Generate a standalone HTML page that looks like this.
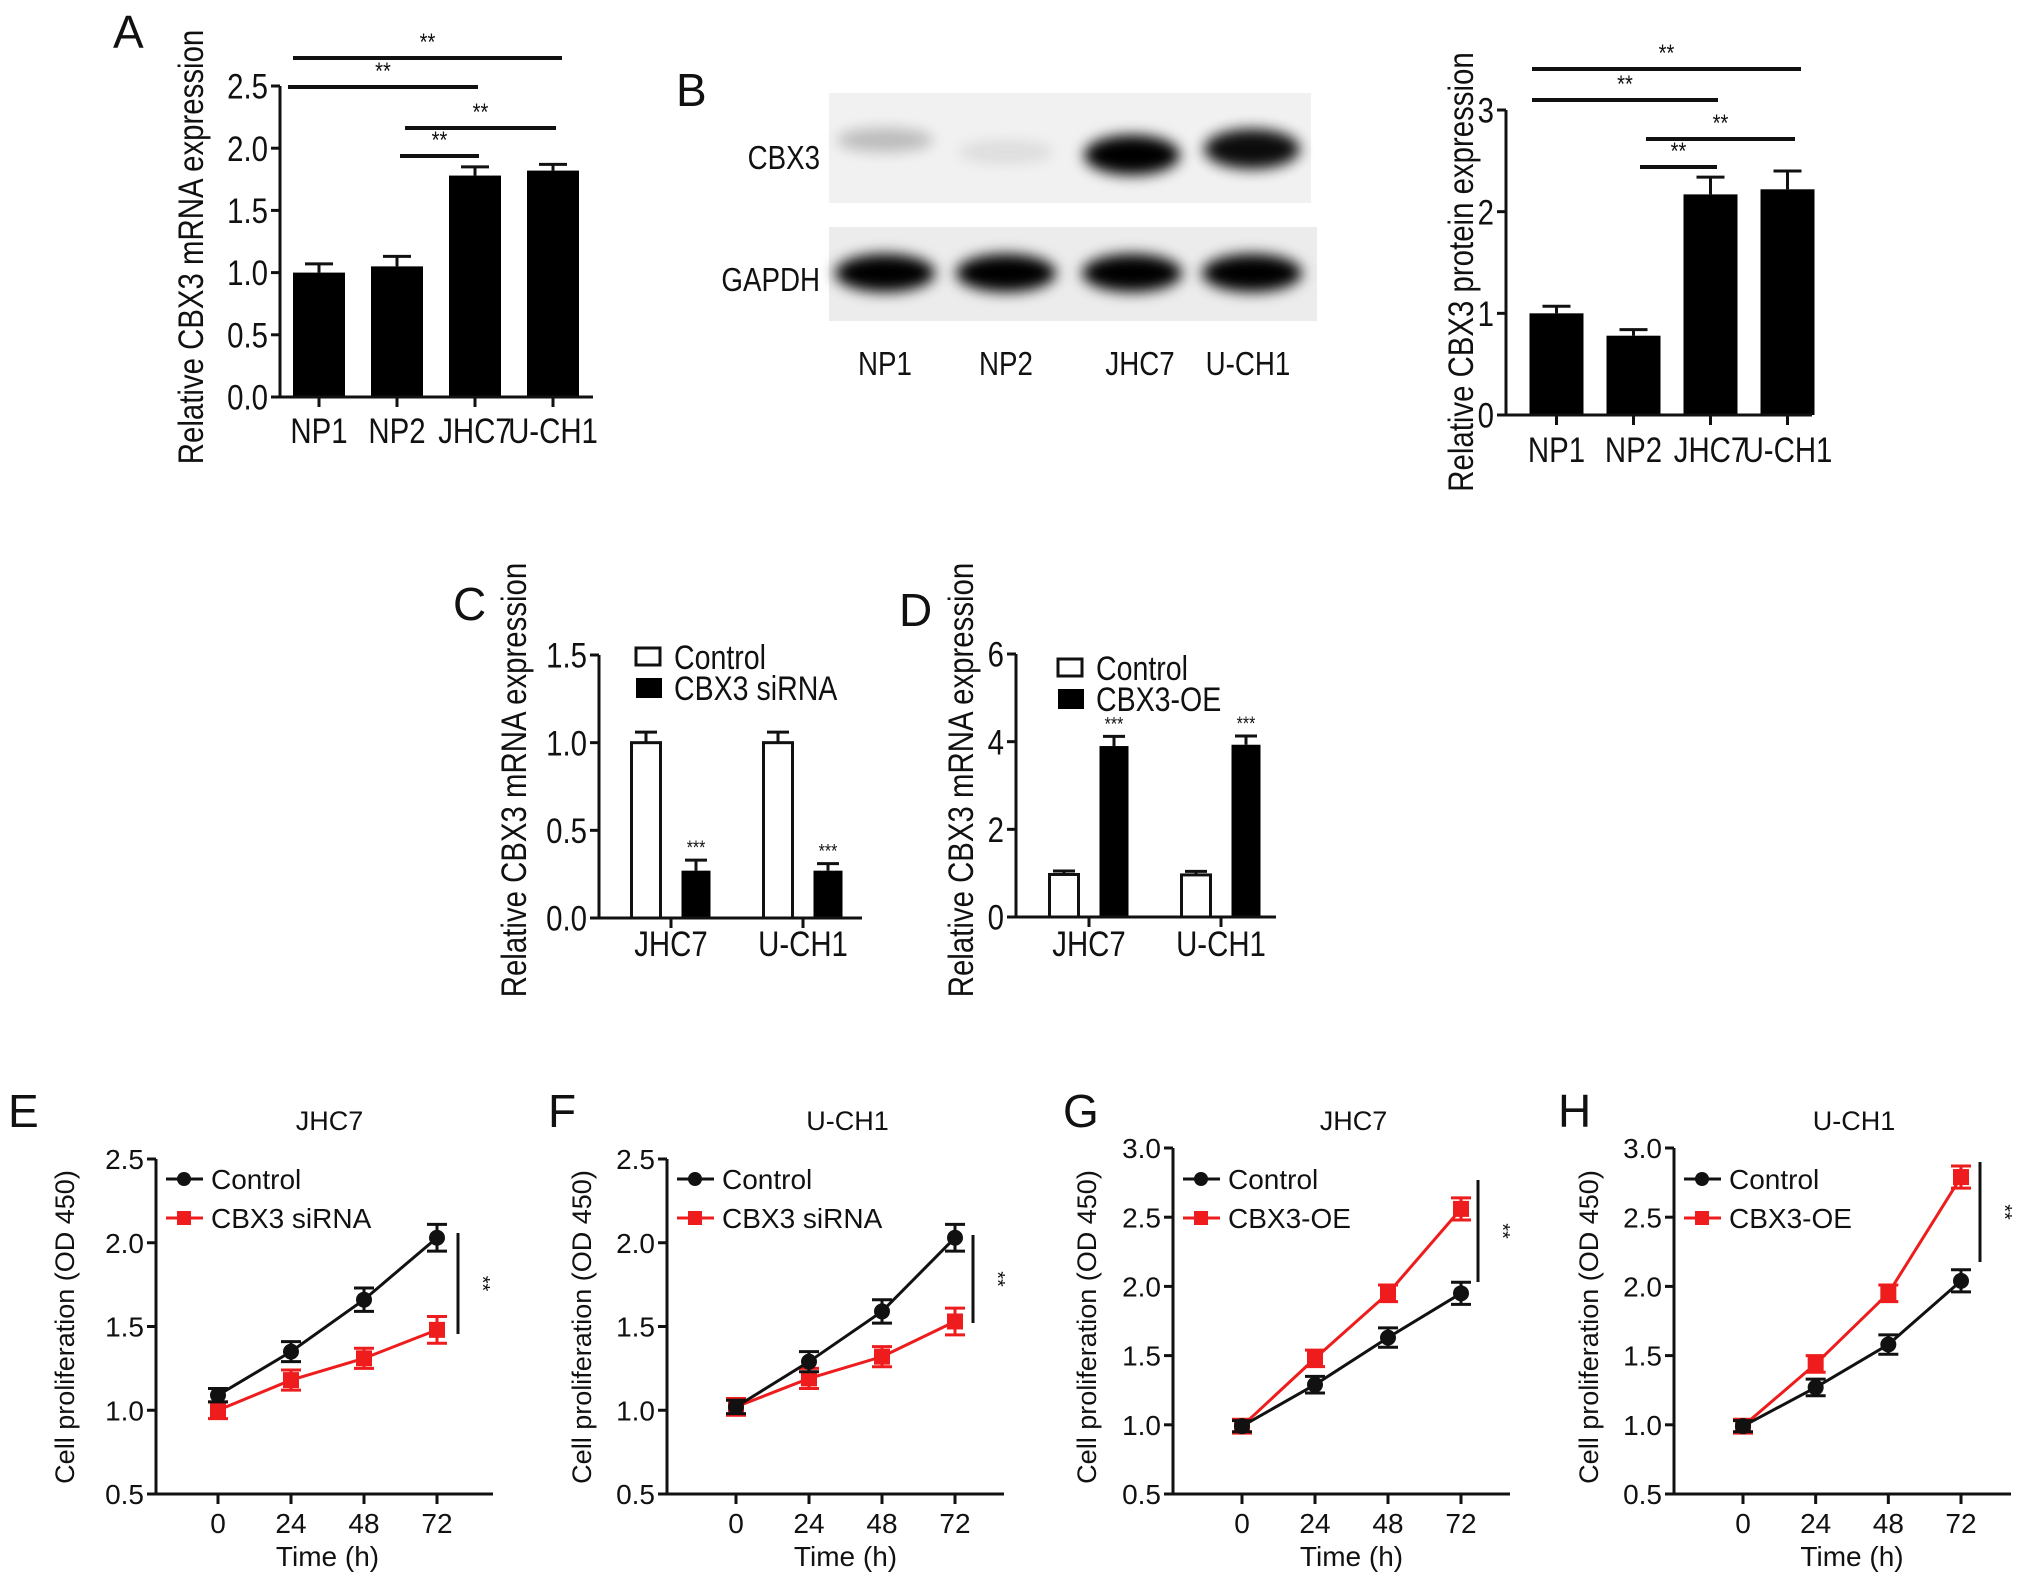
<!DOCTYPE html>
<html><head><meta charset="utf-8"><style>
body{margin:0;background:#fff}
svg{display:block;font-family:"Liberation Sans",Arial,sans-serif}
</style></head><body>
<svg id="fig" width="2032" height="1589" viewBox="0 0 2032 1589" xmlns="http://www.w3.org/2000/svg">
<defs>
<filter id="blur" x="-50%" y="-50%" width="200%" height="200%"><feGaussianBlur stdDeviation="7"/></filter>
</defs>
<g id="root"></g>
</svg>
<script>
// ---- Panel A data ----
const aCats = ["NP1","NP2","JHC7","U-CH1"];
const aVals = [1.0,1.05,1.78,1.82];
const aErr = [0.07,0.08,0.07,0.05];
const aTicks = [0,0.5,1.0,1.5,2.0,2.5];
const aTickLabels = ["0.0","0.5","1.0","1.5","2.0","2.5"];
// ---- Panel B data ----
const bCats = ["NP1","NP2","JHC7","U-CH1"];
const bVals = [1.0,0.78,2.17,2.22];
const bErr = [0.07,0.06,0.17,0.18];
const bTicks = [0,1,2,3];
const bTickLabels = ["0","1","2","3"];
// ---- Panel C data ----
const cCats = ["JHC7","U-CH1"];
const cControl = [1.0,1.0];
const cControlErr = [0.06,0.06];
const cSi = [0.27,0.27];
const cSiErr = [0.06,0.04];
const cTicks = [0,0.5,1.0,1.5];
const cTickLabels = ["0.0","0.5","1.0","1.5"];
// ---- Panel D data ----
const dCats = ["JHC7","U-CH1"];
const dControl = [0.97,0.96];
const dControlErr = [0.08,0.08];
const dOE = [3.9,3.93];
const dOEErr = [0.22,0.2];
const dTicks = [0,2,4,6];
const dTickLabels = ["0","2","4","6"];
// ---- Line panels data ----
const timePoints = [0,24,48,72];
const eControl = [1.09,1.35,1.66,2.03];
const eTreat = [1.0,1.18,1.31,1.48];
const fControl = [1.02,1.29,1.59,2.03];
const fTreat = [1.02,1.19,1.32,1.53];
const gControl = [0.99,1.29,1.63,1.95];
const gTreat = [0.99,1.48,1.95,2.56];
const hControl = [0.99,1.27,1.58,2.04];
const hTreat = [0.99,1.44,1.95,2.79];
const errE = [0.04,0.06,0.07,0.08];
const errT = [0.05,0.06,0.06,0.08];
const lineTicksLow = [0.5,1.0,1.5,2.0,2.5];
const lineTickLabelsLow = ["0.5","1.0","1.5","2.0","2.5"];
const lineTicksHigh = [0.5,1.0,1.5,2.0,2.5,3.0];
const lineTickLabelsHigh = ["0.5","1.0","1.5","2.0","2.5","3.0"];

const NS="http://www.w3.org/2000/svg";
const root=document.getElementById('root');
function el(tag,attrs,parent,text){
  const e=document.createElementNS(NS,tag);
  for(const k in attrs)e.setAttribute(k,attrs[k]);
  if(text!==undefined)e.textContent=text;
  (parent||root).appendChild(e);return e;
}
function lin(d0,d1,r0,r1){return v=>r0+(v-d0)*(r1-r0)/(d1-d0);}
let NARROW=1;
function txt(x,y,s,size,anchor,parent,name,extra){
  const ex=Object.assign({},extra||{});
  if(NARROW!==1){
    const sc=`translate(${x},0) scale(${NARROW},1) translate(${-x},0)`;
    ex.transform=(ex.transform?ex.transform+' ':'')+sc;
  }
  const t=el('text',Object.assign({x:x,y:y,'font-size':size,'text-anchor':anchor||'middle',fill:'#111'},ex),parent,s);
  
  
  return t;
}
function line(x1,y1,x2,y2,w,parent,color){
  return el('line',{x1:x1,y1:y1,x2:x2,y2:y2,stroke:color||'#111','stroke-width':w||3},parent);
}
function yAxis(g,ax,y,ticks,labels,size){
  const a=line(ax,y(ticks[ticks.length-1]),ax,y(ticks[0]),3,g);
  
  
  ticks.forEach((t,i)=>{
    line(ax-9,y(t),ax,y(t),3,g);
    txt(ax-12,y(t)+size*0.36,labels[i],size,'end',g,'y-tick-label');
  });
}
function errBar(g,x,yv,ye,y,capw,color,both){
  line(x,y(yv),x,y(yv+ye),3,g,color);
  line(x-capw,y(yv+ye),x+capw,y(yv+ye),3,g,color);
  if(both){line(x,y(yv),x,y(yv-ye),3,g,color);line(x-capw,y(yv-ye),x+capw,y(yv-ye),3,g,color);}
}
function sig(g,x1,x2,yy,label,size){
  const l=line(x1,yy,x2,yy,4,g);
  
  
  txt((x1+x2)/2,yy-8,label,size||24,'middle',g,'significance-label');
}
function panelLetter(x,y,s){
  const o=NARROW;NARROW=1;
  txt(x,y,s,46,'start',root,'panel-label-'+s.toLowerCase());
  NARROW=o;
}
function yTitle(g,x,y,s,size){
  txt(x,y,s,size,'middle',g,'y-axis-title',{transform:`rotate(-90 ${x} ${y})`});
}

NARROW=0.84;
const FS=35;
// ===== Panel A =====
(function(){
  const g=el('g',{});
  const ax=280,x0=280,step=78,bw=52;
  const y=lin(0,2.5,397,86);
  aVals.forEach((v,i)=>{
    const cx=x0+(i+0.5)*step;
    errBar(g,cx,v,aErr[i],y,14,'#111');
    const r=el('rect',{x:cx-bw/2,y:y(v),width:bw,height:y(0)-y(v),fill:'#000'},g);
    
    
    line(cx,y(0),cx,y(0)+10,3,g);
    txt(cx,443,aCats[i],FS,'middle',g,'x-tick-label');
  });
  yAxis(g,ax,y,aTicks,aTickLabels,FS);
  line(ax,y(0),593,y(0),3,g);
  yTitle(g,203,247,'Relative CBX3 mRNA expression',FS);
  sig(g,293,562,58,'**');sig(g,288,478,87,'**');sig(g,405,556,128,'**');sig(g,400,479,156,'**');
})();
panelLetter(113,48,'A');

// ===== Blot B =====
(function(){
  const g=el('g',{});
  el('rect',{x:829,y:93,width:482,height:110,fill:'#f1f1f1'},g);
  el('rect',{x:829,y:227,width:488,height:94,fill:'#ececec'},g);
  const lanes=[885,1006,1132,1252];
  const cbxOp=[0.22,0.08,1,0.95];
  const cbxY=[140,152,155,149];
  lanes.forEach((lx,i)=>{
    const b=el('ellipse',{cx:lx,cy:cbxY[i],rx:48,ry:i>1?20:12,fill:'#000',opacity:cbxOp[i],filter:'url(#blur)'},g);
    
    const b2=el('ellipse',{cx:lx,cy:273,rx:50,ry:19,fill:'#000',filter:'url(#blur)'},g);
    
  });
  txt(820,169,'CBX3',33,'end',g,'blot-label-cbx3');
  txt(820,291,'GAPDH',33,'end',g,'blot-label-gapdh');
  ['NP1','NP2','JHC7','U-CH1'].forEach((s,i)=>txt([885,1006,1140,1248][i],375,s,33,'middle',g,'lane-label'));
})();
panelLetter(676,106,'B');

// ===== Panel B chart =====
(function(){
  const g=el('g',{});
  const ax=1506,x0=1518,step=77,bw=54;
  const y=lin(0,3,415,110);
  bVals.forEach((v,i)=>{
    const cx=x0+(i+0.5)*step;
    errBar(g,cx,v,bErr[i],y,14,'#111');
    const r=el('rect',{x:cx-bw/2,y:y(v),width:bw,height:y(0)-y(v),fill:'#000'},g);
    
    
    line(cx,y(0),cx,y(0)+10,3,g);
    txt(cx,462,bCats[i],FS,'middle',g,'x-tick-label');
  });
  yAxis(g,ax,y,bTicks,bTickLabels,FS);
  line(ax,y(0),1812,y(0),3,g);
  yTitle(g,1473,272,'Relative CBX3 protein expression',FS);
  sig(g,1532,1801,69,'**');sig(g,1532,1718,100,'**');sig(g,1646,1795,139,'**');sig(g,1640,1717,167,'**');
})();

// ===== Grouped bar helper =====
function grouped(name,ax,y0v,ytopv,y0,ytop,start,step,xEnd,cats,v1,e1,v2,e2,ticks,labels,leg2,legX,legY,titleX){
  const g=el('g',{});
  const y=lin(y0v,ytopv,y0,ytop);const bw=29;
  cats.forEach((c,i)=>{
    const cx=start+(i+0.5)*step;
    const xa=cx-25,xb=cx+25;
    errBar(g,xa,v1[i],e1[i],y,11,'#111');
    errBar(g,xb,v2[i],e2[i],y,11,'#111');
    const r1=el('rect',{x:xa-bw/2,y:y(v1[i]),width:bw,height:y(0)-y(v1[i]),fill:'#fff',stroke:'#111','stroke-width':3},g);
    
    
    const r2=el('rect',{x:xb-bw/2,y:y(v2[i]),width:bw,height:y(0)-y(v2[i]),fill:'#000'},g);
    
    
    txt(xb,y(v2[i]+e2[i])-6,'***',19,'middle',g,'significance-label');
    line(cx,y(0),cx,y(0)+10,3,g);
    txt(cx,956,c,FS,'middle',g,'x-tick-label');
  });
  yAxis(g,ax,y,ticks,labels,FS);
  line(ax,y(0),xEnd,y(0),3,g);
  yTitle(g,titleX,780,'Relative CBX3 mRNA expression',FS);
  const l1=el('rect',{x:legX,y:legY-9,width:24,height:17,fill:'#fff',stroke:'#111','stroke-width':3},g);
  
  txt(legX+38,legY+12,'Control',34,'start',g,'legend-entry');
  const l2=el('rect',{x:legX,y:legY+21,width:26,height:20,fill:'#000'},g);
  
  txt(legX+38,legY+43,leg2,34,'start',g,'legend-entry');
}
grouped('panel-c-chart',599,0,1.5,918,655,605,132,862,cCats,cControl,cControlErr,cSi,cSiErr,cTicks,cTickLabels,'CBX3 siRNA',636,657,526);
grouped('panel-d-chart',1016,0,6,917,654,1023,132,1276,dCats,dControl,dControlErr,dOE,dOEErr,dTicks,dTickLabels,'CBX3-OE',1058,668,973);
panelLetter(453,620,'C');
panelLetter(899,626,'D');
NARROW=1;

// ===== Line panels =====
function linePanel(name,letter,letterX,ax,tx0,tx72,yTopPx,yTopV,ticks,labels,ctrl,trt,trtName,title,sigX,sigY1,sigY2,titleX){
  const g=el('g',{});
  const y=lin(0.5,yTopV,1494,yTopPx);
  const x=lin(0,72,tx0,tx72);
  yAxis(g,ax,y,ticks,labels,28);
  line(ax,1494,ax+337,1494,3,g);
  timePoints.forEach(t=>{line(x(t),1494,x(t),1504,3,g);txt(x(t),1533,String(t),28,'middle',g,'x-tick-label');});
  txt(x(36),1566,'Time (h)',28,'middle',g,'x-axis-title');
  yTitle(g,titleX,1327,'Cell proliferation (OD 450)',27);
  txt(x(36)+2,1130,title,27,'middle',g,'chart-title');
  const series=[[ctrl,'#111','control',errE],[trt,'#ee1c1c','treatment',errT]];
  series.slice().reverse().forEach(([vals,col,nm,er])=>{
    const p=el('polyline',{points:vals.map((v,i)=>x(timePoints[i])+','+y(v)).join(' '),fill:'none',stroke:col,'stroke-width':3},g);
    
    vals.forEach((v,i)=>{
      errBar(g,x(timePoints[i]),v,er[i],y,10,col,true);
      let m;
      if(nm==='control')m=el('circle',{cx:x(timePoints[i]),cy:y(v),r:8,fill:col},g);
      else m=el('rect',{x:x(timePoints[i])-8,y:y(v)-8,width:16,height:16,fill:col},g);
      
    });
  });
  const lx=ax+10;
  line(lx,1179,lx+37,1179,3,g,'#111');
  const c=el('circle',{cx:lx+18,cy:1179,r:7,fill:'#111'},g);
  
  txt(lx+45,1189,'Control',28,'start',g,'legend-entry');
  line(lx,1218,lx+37,1218,3,g,'#ee1c1c');
  const s=el('rect',{x:lx+11,y:1211,width:14,height:14,fill:'#ee1c1c'},g);
  
  txt(lx+45,1228,trtName,28,'start',g,'legend-entry');
  const sl=line(sigX,sigY1,sigX,sigY2,3,g);
  
  txt(sigX+18,(sigY1+sigY2)/2,'**',20,'middle',g,'significance-label',{transform:`rotate(90 ${sigX+18} ${(sigY1+sigY2)/2})`});
  txt(letterX,1127,letter,46,'start',root,'panel-label-'+letter.toLowerCase());
}
linePanel('panel-e-chart','E',8,156,218,437,1159,2.5,lineTicksLow,lineTickLabelsLow,eControl,eTreat,'CBX3 siRNA','JHC7',458,1233,1334,74);
linePanel('panel-f-chart','F',548,667,736,955,1159,2.5,lineTicksLow,lineTickLabelsLow,fControl,fTreat,'CBX3 siRNA','U-CH1',973,1235,1323,591);
linePanel('panel-g-chart','G',1063,1173,1242,1461,1148,3.0,lineTicksHigh,lineTickLabelsHigh,gControl,gTreat,'CBX3-OE','JHC7',1478,1180,1282,1096);
linePanel('panel-h-chart','H',1558,1674,1743,1961,1148,3.0,lineTicksHigh,lineTickLabelsHigh,hControl,hTreat,'CBX3-OE','U-CH1',1980,1162,1262,1598);
</script>
</body></html>
